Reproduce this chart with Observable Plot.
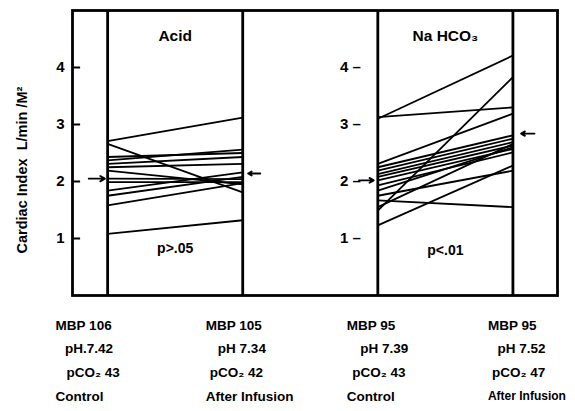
<!DOCTYPE html>
<html><head><meta charset="utf-8">
<script src="https://cdn.jsdelivr.net/npm/d3@7"></script>
<script src="https://cdn.jsdelivr.net/npm/@observablehq/plot@0.6"></script>
<style>body{margin:0;background:#fff}</style>
</head><body><div id="chart"></div>
<script>
// Cardiac index, L/min/M², per subject
const acidControl = [2.71, 2.66, 2.43, 2.37, 2.31, 2.25, 2.19, 2.05, 1.99, 1.84, 1.75, 1.58, 1.08];
const acidAfter   = [3.12, 1.81, 2.50, 2.56, 2.43, 2.31, 1.95, 2.04, 1.99, 2.16, 2.08, 1.97, 1.32];
const bicControl  = [3.10, 3.13, 2.31, 1.49, 1.23, 1.67, 1.75, 2.25, 2.19, 2.13, 2.08, 2.02, 1.93, 1.84, 1.55];
const bicAfter    = [4.21, 3.30, 3.19, 3.83, 2.28, 1.55, 2.19, 2.81, 2.75, 2.69, 2.63, 2.57, 2.51, 2.60, 2.66];
const meanAcid = [2.05, 2.14];
const meanBic  = [2.02, 2.84];
const yTicks = [1, 2, 3, 4];
const panelTitles = ["Acid", "Na HCO₃"];
const pValues = ["p>.05", "p<.01"];
const yLabel = "Cardiac Index  L/min /M²";
const colLabels = [
  ["MBP 106", "pH.7.42", "pCO₂ 43", "Control"],
  ["MBP 105", "pH 7.34", "pCO₂ 42", "After Infusion"],
  ["MBP 95",  "pH 7.39", "pCO₂ 43", "Control"],
  ["MBP 95",  "pH 7.52", "pCO₂ 47", "After Infusion"]
];

// build segments: x positions 0,1 (acid) and 2,3 (bicarbonate)
const segs = [];
acidControl.forEach((v, i) => segs.push({x1: 0, y1: v, x2: 1, y2: acidAfter[i]}));
bicControl.forEach((v, i) => segs.push({x1: 2, y1: v, x2: 3, y2: bicAfter[i]}));

// layout constants (in x-scale units)
const colStart = [-0.385, 0.726, 1.77, 2.815];
const rowIndent = [[0, 0.07, 0.08, 0], [0, 0.09, 0.03, 0], [0, 0.1, 0.04, 0], [0, 0.07, 0.03, 0]];
const rowY = [-0.53, -0.94, -1.36, -1.77];
const labels = [];
colLabels.forEach((col, c) => col.forEach((t, r) => labels.push({x: colStart[c] + rowIndent[c][r], y: rowY[r], t, fs: (c === 3 && r === 3) ? 12 : 13.5})));

const arrows = [
  {x1: -0.14, x2: -0.02, y: meanAcid[0]},
  {x1: 1.13, x2: 1.04, y: meanAcid[1]},
  {x1: 1.86, x2: 1.97, y: meanBic[0]},
  {x1: 3.16, x2: 3.06, y: meanBic[1]}
];

const font = "'Liberation Sans', Arial, sans-serif";
const chart = Plot.plot({
  width: 575, height: 411,
  marginLeft: 72, marginRight: 18, marginTop: 10, marginBottom: 116,
  style: {fontFamily: font, fontWeight: "bold", fontSize: "13px", color: "#000", background: "#fff", overflow: "visible"},
  x: {type: "linear", domain: [-0.26, 3.33], axis: null},
  y: {type: "linear", domain: [0, 5], axis: null},
  marks: [
    Plot.frame({stroke: "#000", strokeWidth: 2.8}),
    Plot.ruleX([0, 1, 2, 3], {stroke: "#000", strokeWidth: 2.8}),
    Plot.link(segs, {x1: "x1", y1: "y1", x2: "x2", y2: "y2", stroke: "#000", strokeWidth: 1.8}),
    // left axis ticks (inward) and labels
    Plot.ruleY(yTicks, {y: d => d, x1: -0.26, x2: -0.2, stroke: "#000", strokeWidth: 2}),
    Plot.text(yTicks, {y: d => d, x: -0.26, dx: -8, text: d => String(d), textAnchor: "end", fontSize: 15, fontWeight: "bold"}),
    // middle axis labels
    Plot.text(yTicks, {y: d => d, x: 1.72, text: d => d + " –", textAnchor: "start", fontSize: 15, fontWeight: "bold"}),
    Plot.arrow(arrows, {x1: "x1", x2: "x2", y1: "y", y2: "y", stroke: "#000", strokeWidth: 1.8, headLength: 6}),
    Plot.text(panelTitles, {x: [0.5, 2.5], y: [4.56, 4.56], text: d => d, fontSize: 15.5, fontWeight: "bold"}),
    Plot.text(pValues, {x: [0.5, 2.5], y: [0.82, 0.79], text: d => d, fontSize: 14, fontWeight: "bold"}),
    Plot.text([yLabel], {x: -0.63, y: 2.2, text: d => d, rotate: -90, fontSize: 14.5, fontWeight: "bold"}),
    Plot.text(labels, {x: "x", y: "y", text: "t", textAnchor: "start", fontSize: "fs", fontWeight: "bold"})
  ]
});
document.getElementById("chart").append(chart);
</script>
</body></html>
